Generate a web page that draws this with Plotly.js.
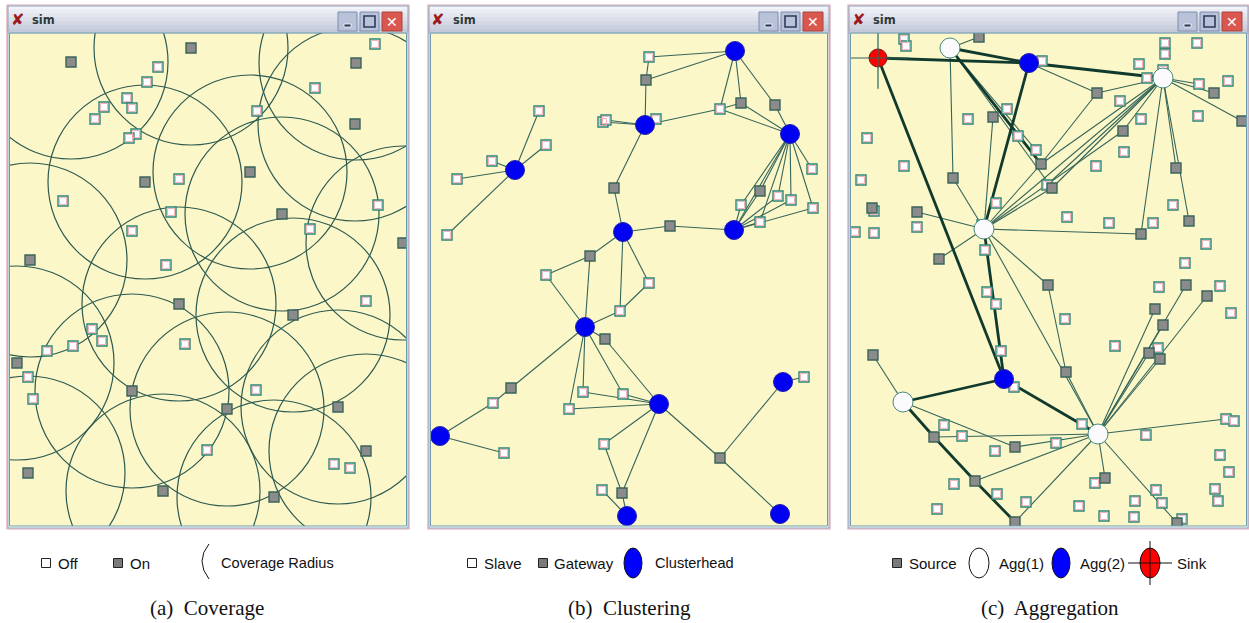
<!DOCTYPE html>
<html><head><meta charset="utf-8">
<script src="https://cdn.plot.ly/plotly-3.0.1.min.js"></script>
<style>html,body{margin:0;padding:0;background:#fff;}#fig{width:1249px;height:623px;}</style>
</head><body><div id="fig"></div>
<script>
// ---------------- DATA (field coordinates, px from top-left of each sim area) -------------
// (a) Coverage
const covOnX  = [61,181,346,345,240,135,272,393,20,169,283,7,122,217,328,356,18,153,264];
const covOnY  = [29,15,30,91,139,149,181,210,227,271,282,330,358,376,374,418,440,458,464];
const covOffX = [365,148,137,305,117,94,122,85,247,126,119,169,53,161,368,300,122,156,356,82,92,175,37,63,18,23,246,197,324,340];
const covOffY = [11,34,49,55,65,74,75,86,78,101,105,146,168,179,172,196,198,232,268,296,308,311,318,313,344,366,357,417,431,435];
const coverageRadius = 97;

// (b) Clustering
const headX  = [304,214,359,84,192,303,154,228,9,352,196,349];
const headY  = [18,92,101,137,199,197,294,371,403,349,483,481];
const gateX  = [215,310,344,183,329,239,159,174,80,289,191];
const gateY  = [47,70,72,155,158,193,223,306,355,425,460];
const slaveX = [218,225,172,175,289,108,115,61,26,16,381,347,360,310,382,329,115,218,189,62,152,192,138,73,173,373,171];
const slaveY = [24,86,89,87,76,78,112,128,146,202,136,163,167,172,175,189,242,250,278,370,359,361,376,420,411,344,457];
const clusterLinks = [
 ['H1','S1'],['H1','G1'],['H1','S5'],['H1','G2'],['H1','G3'],
 ['S1','G1'],['G1','H2'],['H2','S3'],['H2','S4'],['H2','S2'],['H2','S5'],['S5','G2'],['S5','H3'],['G2','H3'],['G3','H3'],
 ['H2','G4'],['G4','H5'],['H5','G6'],['G6','H6'],
 ['H3','S11'],['H3','S15'],['H3','S13'],['H3','S12'],['H3','G5'],['H3','S16'],['H3','S14'],['H3','H6'],
 ['H6','S14'],['H6','G5'],['H6','S12'],['H6','S13'],['H6','S15'],['H6','S16'],
 ['H4','S6'],['H4','S7'],['H4','S8'],['H4','S9'],['H4','S10'],
 ['H5','G7'],['G7','S17'],['S17','H7'],['G7','H7'],['H5','S18'],['H5','S19'],['S18','S19'],['S19','H7'],
 ['H7','G8'],['G8','H8'],['H7','G9'],['G9','S20'],['S20','H9'],['H7','S21'],['H7','S23'],['H7','S22'],
 ['S21','H8'],['S22','H8'],['S23','H8'],['H9','S24'],
 ['H8','S25'],['H8','G11'],['S25','G11'],['G11','H11'],['S27','H11'],['H8','G10'],['G10','H12'],['G10','H10'],['H10','S26']
];

// (c) Aggregation
const sinkX = [27], sinkY = [25];
const agg1X = [99,312,133,52,247], agg1Y = [15,45,196,369,401];
const agg2X = [178,153], agg2Y = [30,346];
const srcX = [128,246,363,391,142,272,190,102,201,325,21,66,338,290,88,197,335,356,304,312,22,298,309,215,83,164,254,124,164,326];
const srcY = [4,60,60,88,84,98,131,145,155,135,175,179,188,201,226,252,252,263,276,292,322,320,326,339,404,414,445,448,489,490];
const idleX = [53,55,191,314,346,314,288,312,296,348,377,347,269,156,117,290,167,185,273,16,53,245,10,196,145,322,23,66,4,23,216,258,302,131,355,134,334,308,369,136,145,214,380,264,150,307,163,231,375,383,93,295,111,205,144,369,378,244,103,146,175,305,284,311,364,367,228,86,253,283,331];
const idleY = [6,13,28,10,10,21,31,37,45,51,48,83,68,76,86,86,103,117,119,105,133,133,147,152,170,172,178,194,199,200,184,190,190,192,211,217,230,254,253,259,271,286,280,313,318,315,354,391,386,388,392,402,403,410,418,422,439,450,451,461,469,457,468,470,456,468,473,476,483,484,486];
const aggThinLinks = [
 ['A1','R1'],['A1','R8'],['A1','W17'],['A1','W18'],['A1','R9'],
 ['B1','R2'],['R2','A2'],['R2','R7'],
 ['A2','R7'],['A2','W24'],['A2','R9'],['A2','R6'],['A2','A3'],['A2','R14'],['A2','R10'],['A2','R13'],['A2','R3'],['A2','R4'],['A2','W10'],
 ['A3','R5'],['A3','R8'],['A3','R12'],['A3','R15'],['A3','R14'],['A3','R7'],['A3','R9'],['A3','R6'],['A3','R16'],['A3','A5'],
 ['R16','R24'],['R24','A5'],
 ['A5','R17'],['A5','R18'],['A5','R19'],['A5','R20'],['A5','R22'],['A5','R23'],['A5','R27'],['A5','R30'],['A5','W49'],
 ['A5','R26'],['A5','R28'],['A5','R29'],['A5','R25'],
 ['A4','R21'],['A4','R26']
];
const aggThickLinks = [
 ['K','B1'],['A1','B1'],['B1','A2'],['K','B2'],['B1','A3'],['A3','B2'],['B2','A4'],['B2','A5'],
 ['A4','R25'],['R25','R28'],['R28','R29'],['A1','R7']
];

// legend & captions text
const legendA = ['Off','On','Coverage Radius'];
const legendB = ['Slave','Gateway','Clusterhead'];
const legendC = ['Source','Agg(1)','Agg(2)','Sink'];
const captions = ['(a)  Coverage','(b)  Clustering','(c)  Aggregation'];

// ---------------- LAYOUT HELPERS ----------------
const W = 1249, H = 623;
const X = px => px / W, Y = py => 1 - py / H;
const contentL = [10, 431, 851], contentR = [406, 827, 1246];
const contentT = 33, contentB = 526;

function ids(prefix, arr){ return arr.map((_,k)=>prefix+(k+1)); }
function lookup(groups){ const m={}; groups.forEach(g=>g.ids.forEach((id,k)=>{m[id]={x:g.x[k],y:g.y[k]};})); return m; }
function linkXY(links, m){ const x=[],y=[]; links.forEach(([a,b])=>{x.push(m[a].x,m[b].x,null);y.push(m[a].y,m[b].y,null);}); return {x,y}; }

const lineThin = '#35655a', lineThick = '#103a2e';
function whiteSq(x,y,ax){ return [
  {type:'scatter',mode:'markers',x,y,xaxis:'x'+ax,yaxis:'y'+ax,hoverinfo:'skip',
   marker:{symbol:'square',size:10,color:'#ffffff',line:{color:'#2f8476',width:1.4}}},
  {type:'scatter',mode:'markers',x,y,xaxis:'x'+ax,yaxis:'y'+ax,hoverinfo:'skip',
   marker:{symbol:'square-open',size:7,color:'#f2aab1',line:{color:'#f2aab1',width:0.9}}}]; }
function graySq(x,y,ax){ return [
  {type:'scatter',mode:'markers',x,y,xaxis:'x'+ax,yaxis:'y'+ax,hoverinfo:'skip',
   marker:{symbol:'square',size:10,color:'#8b8b8b',line:{color:'#3b6459',width:1.4}}}]; }

const traces = [];
// panel a
traces.push(...whiteSq(covOffX,covOffY,''), ...graySq(covOnX,covOnY,''));
// panel b
const mB = lookup([{ids:ids('H',headX),x:headX,y:headY},{ids:ids('G',gateX),x:gateX,y:gateY},{ids:ids('S',slaveX),x:slaveX,y:slaveY}]);
const eB = linkXY(clusterLinks, mB);
traces.push({type:'scatter',mode:'lines',x:eB.x,y:eB.y,xaxis:'x2',yaxis:'y2',hoverinfo:'skip',line:{color:lineThin,width:1.1}});
traces.push(...whiteSq(slaveX,slaveY,'2'), ...graySq(gateX,gateY,'2'));
traces.push({type:'scatter',mode:'markers',x:headX,y:headY,xaxis:'x2',yaxis:'y2',hoverinfo:'skip',
  marker:{symbol:'circle',size:19,color:'#0000f2',line:{color:'#2020a8',width:1}}});
// panel c
const mC = lookup([{ids:['K'],x:sinkX,y:sinkY},{ids:ids('A',agg1X),x:agg1X,y:agg1Y},{ids:ids('B',agg2X),x:agg2X,y:agg2Y},
  {ids:ids('R',srcX),x:srcX,y:srcY},{ids:ids('W',idleX),x:idleX,y:idleY}]);
const eC1 = linkXY(aggThinLinks, mC), eC2 = linkXY(aggThickLinks, mC);
traces.push({type:'scatter',mode:'lines',x:eC1.x,y:eC1.y,xaxis:'x3',yaxis:'y3',hoverinfo:'skip',line:{color:lineThin,width:1.1}});
traces.push({type:'scatter',mode:'lines',x:eC2.x,y:eC2.y,xaxis:'x3',yaxis:'y3',hoverinfo:'skip',line:{color:lineThick,width:2.8}});
traces.push(...whiteSq(idleX,idleY,'3'), ...graySq(srcX,srcY,'3'));
traces.push({type:'scatter',mode:'markers',x:agg1X,y:agg1Y,xaxis:'x3',yaxis:'y3',hoverinfo:'skip',
  marker:{symbol:'circle',size:20,color:'#fbfafd',line:{color:'#4a8a80',width:1}}});
traces.push({type:'scatter',mode:'markers',x:agg2X,y:agg2Y,xaxis:'x3',yaxis:'y3',hoverinfo:'skip',
  marker:{symbol:'circle',size:19,color:'#0000f2',line:{color:'#2020a8',width:1}}});
traces.push({type:'scatter',mode:'markers',x:sinkX,y:sinkY,xaxis:'x3',yaxis:'y3',hoverinfo:'skip',
  marker:{symbol:'circle',size:18,color:'#ff0000',line:{color:'#7a1a1a',width:1}}});
traces.push({type:'scatter',mode:'markers',x:sinkX,y:sinkY,xaxis:'x3',yaxis:'y3',hoverinfo:'skip',
  marker:{symbol:'cross-thin-open',size:44,color:'#2e6458',line:{color:'#2e6458',width:1.2}}});

// ---------------- SHAPES ----------------
const shapes = [];
// coverage circles (panel a)
covOnX.forEach((cx,k)=>{ const cy=covOnY[k];
  shapes.push({type:'circle',xref:'x',yref:'y',x0:cx-coverageRadius,x1:cx+coverageRadius,y0:cy-coverageRadius,y1:cy+coverageRadius,
    line:{color:'#2c5a50',width:1.2},layer:'below'}); });

function prect(x0,y0,x1,y1,opt){ shapes.push(Object.assign({type:'rect',xref:'paper',yref:'paper',x0:X(x0),x1:X(x1),y0:Y(y1),y1:Y(y0)},opt)); }
const annotations = [];
function ptext(px,py,text,opt){ annotations.push(Object.assign({xref:'paper',yref:'paper',x:X(px),y:Y(py),text,showarrow:false,
  xanchor:'left',yanchor:'middle',font:{family:'Liberation Sans, Arial',size:15,color:'#111'}},opt)); }

const top0 = 5, bot0 = 529;
for (let i=0;i<3;i++){
  const wl = contentL[i]-3, wr = contentR[i]+3;
  prect(contentL[i],contentT,contentR[i],contentB,{fillcolor:'#fbf7c8',line:{width:0},layer:'below'});
  const n=7, c0=[243,244,249], c1=[196,202,218];
  for(let s=0;s<n;s++){ const t=s/(n-1); const c=c0.map((v,j)=>Math.round(v+(c1[j]-v)*t));
    prect(wl, top0+s*(28/n), wr, top0+(s+1)*(28/n)+0.5,{fillcolor:`rgb(${c})`,line:{width:0},layer:'below'}); }
  prect(wl,top0,wr,bot0,{line:{color:'#e2a3b2',width:1.2},layer:'above'});
  prect(wl+1,top0+1,wr-1,bot0-1,{line:{color:'#8aa6ba',width:1},layer:'above'});
  prect(contentL[i]-0.5,contentT,contentR[i]+0.5,contentB,{line:{color:'#6d9cae',width:1},layer:'above'});
  const by0=12, by1=31;
  prect(wr-71,by0,wr-52,by1,{fillcolor:'#b8c2d8',line:{color:'#7e8cae',width:1},layer:'above'});
  prect(wr-65,24,wr-58,27,{fillcolor:'#2e3a5c',line:{color:'#ffffff',width:0.8},layer:'above'});
  prect(wr-49,by0,wr-30,by1,{fillcolor:'#b8c2d8',line:{color:'#7e8cae',width:1},layer:'above'});
  prect(wr-45,16,wr-34,27,{line:{color:'#2e3a5c',width:1.6},layer:'above'});
  prect(wr-27,by0,wr-7,by1,{fillcolor:'#d9574f',line:{color:'#a8453f',width:1},layer:'above'});
  ptext(wr-17,21.5,'✕',{xanchor:'center',font:{family:'DejaVu Sans',size:14,color:'#ffffff'}});
  ptext(wl+10,20,'<b>✘</b>',{xanchor:'center',font:{family:'DejaVu Sans',size:16,color:'#9c1a1e'}});
  ptext(wl+23,20,'<b>sim</b>',{font:{family:'DejaVu Sans',size:11.5,color:'#2f3a3a'}});
}

// ---------------- LEGENDS ----------------
const LY = 563;
function sq(cx,fill){ prect(cx-4.5,LY-4.5,cx+4.5,LY+4.5,{fillcolor:fill,line:{color:'#222',width:1},layer:'above'}); }
function ell(cx,fill,rx,ry){ shapes.push({type:'circle',xref:'paper',yref:'paper',x0:X(cx-rx),x1:X(cx+rx),y0:Y(LY+ry),y1:Y(LY-ry),
  fillcolor:fill,line:{color:'#111',width:1},layer:'above'}); }
function pline(x0,y0,x1,y1){ shapes.push({type:'line',xref:'paper',yref:'paper',x0:X(x0),x1:X(x1),y0:Y(y0),y1:Y(y1),line:{color:'#111',width:1},layer:'above'}); }
sq(46,'#ffffff'); ptext(56,LY,legendA[0]);
sq(118,'#7a7a7a'); ptext(128,LY,legendA[1]);
shapes.push({type:'path',xref:'paper',yref:'paper',layer:'above',line:{color:'#111',width:1},
  path:`M ${X(209)} ${Y(544)} Q ${X(195)} ${Y(561)} ${X(209)} ${Y(579)}`});
ptext(219,LY,legendA[2],{font:{family:'Liberation Sans, Arial',size:14.6,color:'#111'}});
sq(472,'#ffffff'); ptext(482,LY,legendB[0]);
sq(543,'#7a7a7a'); ptext(552,LY,legendB[1]);
ell(633,'#0000ff',9,15); ptext(653,LY,legendB[2],{font:{family:'Liberation Sans, Arial',size:14.6,color:'#111'}});
sq(897,'#7a7a7a'); ptext(907,LY,legendC[0]);
ell(979,'#ffffff',10,15); ptext(997,LY,legendC[1]);
ell(1061,'#0000ff',9,15); ptext(1078,LY,legendC[2]);
ell(1150,'#ff0000',10,15); pline(1128,LY,1172,LY); pline(1150,LY-22,1150,LY+22); ptext(1175,LY,legendC[3]);
[207,629,1050].forEach((cx,i)=>ptext(cx,608,captions[i],{xanchor:'center',font:{family:'Liberation Serif, Times New Roman',size:21,color:'#111'}}));

// ---------------- AXES ----------------
function ax(i){ return {domain:[X(contentL[i]),X(contentR[i])],range:[0,contentR[i]-contentL[i]],visible:false,fixedrange:true,showgrid:false,zeroline:false}; }
function ay(){ return {domain:[Y(contentB),Y(contentT)],range:[contentB-contentT,0],visible:false,fixedrange:true,showgrid:false,zeroline:false}; }
const layout = {
  width:W,height:H,margin:{l:0,r:0,t:0,b:0},paper_bgcolor:'#ffffff',plot_bgcolor:'rgba(0,0,0,0)',showlegend:false,
  xaxis:Object.assign(ax(0),{anchor:'y'}), yaxis:Object.assign(ay(),{anchor:'x'}),
  xaxis2:Object.assign(ax(1),{anchor:'y2'}), yaxis2:Object.assign(ay(),{anchor:'x2'}),
  xaxis3:Object.assign(ax(2),{anchor:'y3'}), yaxis3:Object.assign(ay(),{anchor:'x3'}),
  shapes, annotations
};
Plotly.newPlot('fig', traces, layout, {displayModeBar:false,staticPlot:true});
</script></body></html>
